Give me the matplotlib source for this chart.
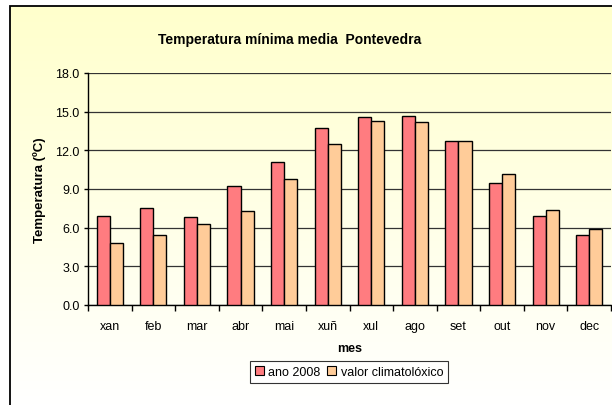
import matplotlib
matplotlib.use("Agg")

import matplotlib.pyplot as plt
import numpy as np
from matplotlib.patches import Patch, Rectangle


# =========================
# DATA
# =========================

meses = ["xan", "feb", "mar", "abr", "mai", "xuñ",
         "xul", "ago", "set", "out", "nov", "dec"]
ano_2008 = [6.9, 7.5, 6.8, 9.2, 11.1, 13.7, 14.6, 14.7, 12.7, 9.5, 6.9, 5.4]
climatoloxico = [4.8, 5.4, 6.3, 7.3, 9.8, 12.5, 14.3, 14.2, 12.7, 10.2, 7.4, 5.9]
yticks = [0.0, 3.0, 6.0, 9.0, 12.0, 15.0, 18.0]

COR_2008 = "#FF7C80"
COR_CLIM = "#FFCC99"

plt.rcParams["font.family"] = ["Liberation Sans", "DejaVu Sans"]

W, H = 612, 406
fig = plt.figure(figsize=(W / 100, H / 100), dpi=100)

# =========================
# BACKGROUND (gradient chart area)
# =========================

bg = fig.add_axes([10 / W, 0, 1 - 10 / W, 1 - 7 / H])
bg.set_xlim(0, 1)
bg.set_ylim(0, 1)
grad = np.linspace(0, 1, 256).reshape(-1, 1)
top = np.array([1.0, 1.0, 0.80])
bottom = np.array([1.0, 1.0, 1.0])
img = bottom + (top - bottom) * grad
bg.imshow(img[:, None, :].repeat(2, axis=1), extent=[0, 1, 0, 1],
          origin="lower", aspect="auto", zorder=0)
bg.add_patch(Rectangle((0, -0.1), 1.2, 1.1, fill=False, edgecolor="black",
                       linewidth=1.3, zorder=1, clip_on=False))
bg.axis("off")

# =========================
# BAR CHART
# =========================

ax = fig.add_axes([88 / W, 1 - 306 / H, 523 / W, 232 / H])
ax.patch.set_alpha(0)

x = np.arange(len(meses))
w = 0.3
ax.bar(x - w / 2, ano_2008, w, color=COR_2008, edgecolor="black",
       linewidth=1, label="ano 2008", zorder=3)
ax.bar(x + w / 2, climatoloxico, w, color=COR_CLIM, edgecolor="black",
       linewidth=1, label="valor climatolóxico", zorder=3)

ax.set_xlim(-0.5, len(meses) - 0.5)
ax.set_ylim(0, 18)
ax.set_yticks(yticks)
ax.set_yticklabels([f"{v:.1f}" for v in yticks], fontsize=9)
ax.set_xticks(x)
ax.set_xticklabels(meses, fontsize=9)
ax.set_xticks(np.arange(-0.5, len(meses)), minor=True)
ax.tick_params(axis="x", which="major", length=0, pad=11)
ax.tick_params(axis="x", which="minor", length=4, direction="out", width=1)
ax.tick_params(axis="y", length=3, width=1, pad=3)

ax.yaxis.grid(True, color="#333333", linewidth=0.9, zorder=0)
ax.set_axisbelow(True)
for s in ["top", "right"]:
    ax.spines[s].set_visible(False)
ax.spines["left"].set_linewidth(1)
ax.spines["bottom"].set_linewidth(1)

ax.set_ylabel("Temperatura (ºC)", fontsize=9.5, fontweight="bold", labelpad=7)
ax.set_xlabel("mes", fontsize=9, fontweight="bold", labelpad=7)

fig.text(290 / W, 1 - 40 / H, "Temperatura mínima media  Pontevedra",
         ha="center", va="center", fontsize=10, fontweight="bold")

handles = [Patch(facecolor=COR_2008, edgecolor="black", linewidth=0.8),
           Patch(facecolor=COR_CLIM, edgecolor="black", linewidth=0.8)]
leg = fig.legend(handles, ["ano 2008", "valor climatolóxico"],
                 loc="center", bbox_to_anchor=(349 / W, 1 - 373 / H),
                 ncol=2, fontsize=9, frameon=True, fancybox=False,
                 handlelength=0.7, handleheight=0.7, handletextpad=0.4,
                 columnspacing=0.5, borderpad=0.4, borderaxespad=0)
leg.get_frame().set_edgecolor("black")
leg.get_frame().set_linewidth(0.8)
leg.get_frame().set_facecolor("white")

fig.savefig("out.png", dpi=100)
plt.close(fig)
